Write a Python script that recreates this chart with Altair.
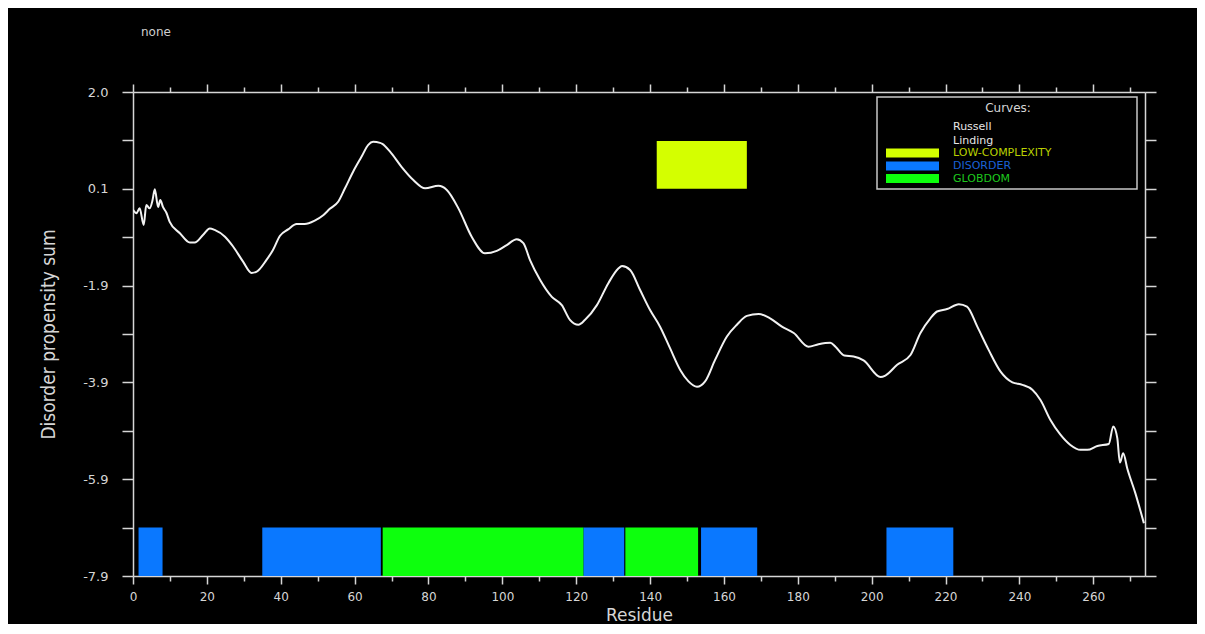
import altair as alt
import pandas as pd

# ---- curve (Russell/Linding disorder propensity sum) ----
residue = [0.0, 0.9, 1.8, 2.9, 3.6, 4.5, 5.3, 5.9, 6.8, 7.4, 8.1, 9.1, 9.9,
           12.7, 15.4, 16.7, 19.0, 20.8, 22.1, 24.9, 27.1, 29.8, 32.1, 33.4,
           36.1, 37.9, 39.8, 42.0, 44.3, 46.5, 49.2, 51.5, 53.3, 55.6, 57.4,
           59.6, 61.9, 63.7, 65.0, 66.9, 67.5, 69.6, 72.7, 75.9, 79.1, 82.7,
           84.9, 88.1, 91.7, 95.3, 98.5, 101.2, 103.9, 105.7, 107.5, 110.2,
           113.4, 116.1, 118.3, 120.6, 122.4, 125.6, 128.7, 131.4, 132.4,
           134.6, 137.3, 140.0, 142.7, 145.4, 148.2, 150.4, 152.7, 154.9,
           157.6, 160.8, 163.5, 166.2, 169.4, 172.5, 175.7, 178.9, 182.9,
           185.6, 188.8, 190.2, 192.6, 195.1, 197.8, 202.4, 203.7, 206.9,
           210.5, 213.2, 215.9, 217.7, 220.4, 223.6, 225.8, 228.6, 231.7,
           234.9, 238.1, 240.8, 243.5, 245.7, 248.4, 251.1, 253.8, 256.5,
           258.4, 261.1, 264.2, 265.4, 266.5, 267.2, 268.1, 269.2, 271.4, 273.7]
score = [-0.41, -0.48, -0.38, -0.72, -0.31, -0.38, -0.21, 0.01, -0.35, -0.21, -0.35, -0.48, -0.65,
         -0.89, -1.08, -1.08, -0.92, -0.79, -0.82, -0.96, -1.16, -1.47, -1.70, -1.68,
         -1.44, -1.23, -0.94, -0.81, -0.70, -0.70, -0.63, -0.52, -0.39, -0.24, 0.03,
         0.37, 0.68, 0.92, 0.98, 0.96, 0.94, 0.78, 0.47, 0.20, 0.03, 0.08,
         0.00, -0.38, -0.96, -1.30, -1.25, -1.13, -1.01, -1.09, -1.44, -1.84,
         -2.19, -2.36, -2.66, -2.76, -2.66, -2.36, -1.91, -1.61, -1.56,
         -1.64, -2.05, -2.46, -2.80, -3.24, -3.69, -3.92, -4.03, -3.92,
         -3.48, -3.00, -2.76, -2.58, -2.54, -2.63, -2.80, -2.93, -3.21,
         -3.16, -3.13, -3.21, -3.39, -3.41, -3.49, -3.83, -3.80, -3.58,
         -3.38, -2.93, -2.63, -2.49, -2.44, -2.34, -2.39, -2.80, -3.28,
         -3.72, -3.94, -3.99, -4.09, -4.30, -4.71, -5.01, -5.22, -5.32,
         -5.32, -5.24, -5.20, -4.84, -5.08, -5.58, -5.39, -5.70, -6.21, -6.82]

# ---- predicted segments ----
seg_type = ["DISORDER", "DISORDER", "GLOBDOM", "DISORDER", "GLOBDOM",
            "DISORDER", "DISORDER", "LOW-COMPLEXITY"]
seg_start = [1.5, 35.0, 67.6, 122.0, 133.3, 153.8, 204.0, 141.8]
seg_end = [8.0, 67.1, 122.0, 133.0, 153.0, 169.0, 222.1, 166.2]
seg_low = [-7.9, -7.9, -7.9, -7.9, -7.9, -7.9, -7.9, 0.02]
seg_high = [-6.91, -6.91, -6.91, -6.91, -6.91, -6.91, -6.91, 1.0]

cat_names = ["LOW-COMPLEXITY", "DISORDER", "GLOBDOM"]
cat_colors = ["#d4ff00", "#0a78ff", "#0dff0d"]
cat_text_colors = ["#b9d000", "#1a62d6", "#1ec81e"]

# ---- ticks ----
x_ticks = list(range(0, 271, 10))
y_tick_values = [2.0, 0.02, -1.96, -3.94, -5.92, -7.9]
y_tick_labels = ["2.0", "0.1", "-1.9", "-3.9", "-5.9", "-7.9"]
y_all_ticks = sorted(
    set([round(v, 3) for v in y_tick_values] +
        [round((a + b) / 2, 3) for a, b in zip(y_tick_values[:-1], y_tick_values[1:])]))

curve_df = pd.DataFrame({"residue": residue, "score": score})
seg_df = pd.DataFrame({"start": seg_start, "end": seg_end, "low": seg_low,
                       "high": seg_high, "type": seg_type})

FG = "#d6d6d6"
TICK_FONT = "DejaVu Sans"

y_label_expr = " : ".join(
    f"abs(datum.value - ({v})) < 0.05 ? '{lab}'" for v, lab in zip(y_tick_values, y_tick_labels)
) + " : ''"
x_tick_size = {"condition": {"test": "datum.value % 20 === 0", "value": 8}, "value": 5}

x_scale = alt.Scale(domain=[0, 274], nice=False, zero=False)
y_scale = alt.Scale(domain=[-7.9, 2.0], nice=False, zero=False)

W, H = 1012, 484

curve = alt.Chart(curve_df).mark_line(color="#f2f2f2", strokeWidth=2, clip=True,
                                      interpolate="monotone").encode(
    x=alt.X("residue:Q", scale=x_scale,
            axis=alt.Axis(values=x_ticks, orient="bottom",
                          labelExpr="datum.value % 20 === 0 ? datum.label : ''",
                          tickSize=x_tick_size, tickColor=FG, tickWidth=1.5,
                          domainColor=FG, domainWidth=1.5,
                          labelColor=FG, labelFont=TICK_FONT, labelFontSize=12,
                          labelPadding=7, labelFlush=False, labelOverlap=False,
                          grid=False, title="Residue", titleColor=FG,
                          titleFont="DejaVu Sans", titleFontSize=17, titleFontWeight="normal",
                          titleX=W / 2, titleY=39, titleAlign="center", titleBaseline="middle")),
    y=alt.Y("score:Q", scale=y_scale,
            axis=alt.Axis(values=y_all_ticks, orient="left", labelExpr=y_label_expr,
                          tickSize=11, tickColor=FG, tickWidth=1.5,
                          domainColor=FG, domainWidth=1.5,
                          labelColor=FG, labelFont=TICK_FONT, labelFontSize=13,
                          labelPadding=14, labelFlush=False, labelOverlap=False,
                          grid=False, title="Disorder propensity sum", titleColor=FG,
                          titleFont="Liberation Sans Narrow, DejaVu Sans Condensed, Roboto, sans-serif",
                          titleFontSize=19, titleFontWeight="normal", titleAngle=-90,
                          titleX=-85, titleY=H / 2, titleAlign="center", titleBaseline="middle")),
)

segments = alt.Chart(seg_df).mark_rect().encode(
    x=alt.X("start:Q", scale=x_scale,
            axis=alt.Axis(values=x_ticks, orient="top", labels=False,
                          tickSize=x_tick_size, tickColor=FG, tickWidth=1.5,
                          domainColor=FG, domainWidth=1.5, grid=False, title=None)),
    x2="end:Q",
    y=alt.Y("low:Q", scale=y_scale,
            axis=alt.Axis(values=y_all_ticks, orient="right", labels=False,
                          tickSize=11, tickColor=FG, tickWidth=1.5,
                          domainColor=FG, domainWidth=1.5, grid=False, title=None)),
    y2="high:Q",
    color=alt.Color("type:N", scale=alt.Scale(domain=cat_names, range=cat_colors), legend=None),
)

# ---- header text ----
header = alt.Chart(pd.DataFrame({"t": ["none"]})).mark_text(
    align="left", baseline="middle", font="DejaVu Sans", fontSize=12, color="#cfcfcf"
).encode(text="t:N", x=alt.value(8), y=alt.value(-60))

# ---- legend box ----
legend_layers = []
legend_layers.append(
    alt.Chart(pd.DataFrame({"a": [0]})).mark_rect(fill="black", stroke="#c8c8c8", strokeWidth=1.5)
    .encode(x=alt.value(744), x2=alt.value(1004), y=alt.value(5), y2=alt.value(97))
)
legend_layers.append(
    alt.Chart(pd.DataFrame({"t": ["Curves:"]})).mark_text(
        align="center", baseline="middle", font="DejaVu Sans", fontSize=12, color="#d6d6d6"
    ).encode(text="t:N", x=alt.value(875), y=alt.value(16))
)
legend_rows = ["Russell", "Linding"] + cat_names
legend_row_colors = ["#e6e6e6", "#e6e6e6"] + cat_text_colors
legend_row_y = [35, 48.5, 61, 74, 86.5]
for name, col, yy in zip(legend_rows, legend_row_colors, legend_row_y):
    legend_layers.append(
        alt.Chart(pd.DataFrame({"t": [name]})).mark_text(
            align="left", baseline="middle", font="DejaVu Sans", fontSize=11, color=col
        ).encode(text="t:N", x=alt.value(820), y=alt.value(yy))
    )
for name, col, yy in zip(cat_names, cat_colors, legend_row_y[2:]):
    legend_layers.append(
        alt.Chart(pd.DataFrame({"t": [name]})).mark_rect(color=col)
        .encode(x=alt.value(753), x2=alt.value(806), y=alt.value(yy - 4.5), y2=alt.value(yy + 4.5))
    )

chart = alt.layer(segments, curve, header, *legend_layers).resolve_axis(
    x="independent", y="independent"
).properties(
    width=W, height=H,
    autosize=alt.AutoSizeParams(type="none"),
    padding={"left": 125, "top": 84, "right": 52, "bottom": 48},
).configure(background="black").configure_view(stroke=None)

chart.save("out.html", embed_options={"renderer": "svg", "actions": False})
